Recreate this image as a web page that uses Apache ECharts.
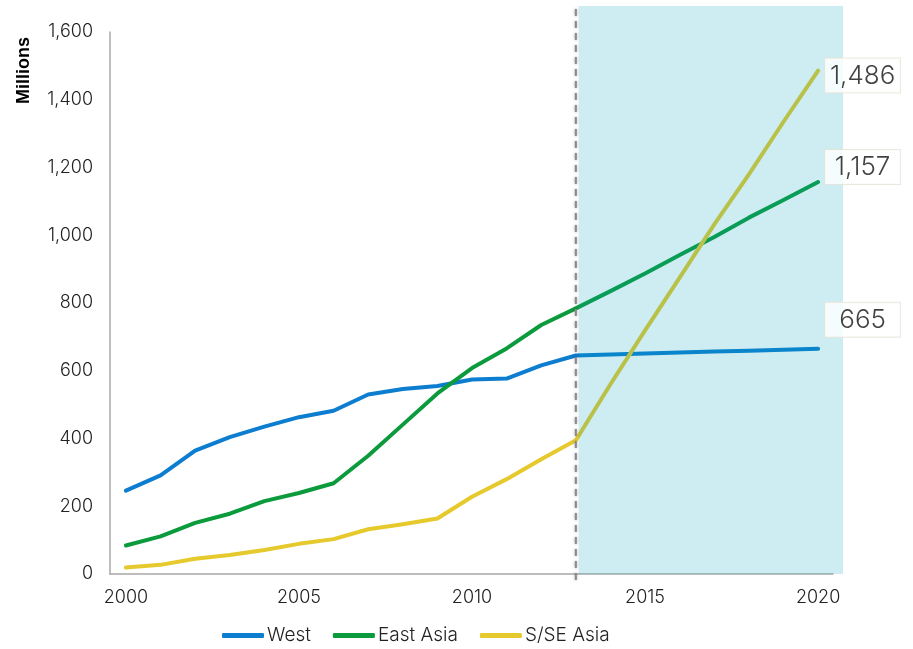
<!DOCTYPE html>
<html>
<head>
<meta charset="utf-8">
<style>
  html, body { margin: 0; padding: 0; background: #fff; }
  #chart { width: 913px; height: 649px; }
</style>
<script src="https://cdn.jsdelivr.net/npm/echarts@6/dist/echarts.min.js"></script>
</head>
<body>
<div id="chart"></div>
<script>
// Middle-class population by region, millions (2013 onward are projections)
const years = [2000, 2001, 2002, 2003, 2004, 2005, 2006, 2007, 2008, 2009, 2010,
               2011, 2012, 2013, 2014, 2015, 2016, 2017, 2018, 2019, 2020];
const west = [246, 291, 364, 404, 435, 463, 482, 530, 546, 555, 574,
              577, 616, 645, 648, 651, 654, 657, 659, 662, 665];
const eastAsia = [84, 111, 151, 178, 215, 239, 268, 349, 441, 533, 608,
                  666, 735, 784, 835, 887, 942, 995, 1052, 1104, 1157];
const sseAsia = [19, 27, 45, 56, 71, 89, 103, 132, 147, 164, 228,
                 280, 339, 395, 560, 719, 875, 1032, 1180, 1335, 1486];
const seriesNames = ['West', 'East Asia', 'S/SE Asia'];
const xTicks = [2000, 2005, 2010, 2015, 2020];
const forecastStart = 2013;
// extent of the projection band in data units
const bandEnd = [2020.72, 1677];
const dividerRange = [-18, 1680];

const colors = ['#0c7dcf', '#0b9a3c', '#e6c92c'];
const FONT = "Inter, 'Helvetica Neue', Roboto, sans-serif";
const LIGHT = 300;

const pairs = arr => years.map((y, i) => [y, arr[i]]);
const lastYear = years[years.length - 1];
const endValues = [west, eastAsia, sseAsia].map(a => a[a.length - 1]);
const endOffsets = [-29, -15, 5];

const chart = echarts.init(document.getElementById('chart'), null, { renderer: 'canvas' });

const lineSeries = [west, eastAsia, sseAsia].map((arr, i) => ({
  name: seriesNames[i],
  type: 'line',
  data: pairs(arr),
  showSymbol: false,
  symbol: 'none',
  z: 2,
  lineStyle: { width: 4, color: colors[i], cap: 'round', join: 'round' },
  itemStyle: { color: colors[i] },
  emphasis: { disabled: true }
}));

const millionsTitle = {
  id: 'unit',
  type: 'text',
  left: 15,
  top: 37,
  rotation: Math.PI / 2,
  style: {
    text: 'Millions',
    font: "bold 18px 'Liberation Sans', Arial, sans-serif",
    fill: '#000'
  }
};

chart.setOption({
  animation: false,
  backgroundColor: '#ffffff',
  textStyle: { fontFamily: FONT },
  grid: { left: 110, right: 80, top: 32, bottom: 75 },
  legend: {
    data: seriesNames.map(n => ({ name: n, icon: 'roundRect' })),
    left: 222,
    top: 626,
    padding: 0,
    itemWidth: 42,
    itemHeight: 5,
    itemGap: 22,
    textStyle: { fontSize: 19, color: '#222', fontFamily: FONT, fontWeight: LIGHT, padding: [0, 0, 0, -2] }
  },
  xAxis: {
    type: 'value',
    min: 1999.54,
    max: 2020.43,
    axisLine: { show: true, lineStyle: { color: '#a8a8a8', width: 1.5 } },
    axisTick: { show: false },
    splitLine: { show: false },
    axisLabel: {
      customValues: xTicks,
      formatter: v => String(v),
      fontSize: 18,
      color: '#222',
      fontWeight: LIGHT,
      margin: 15,
      fontFamily: FONT
    }
  },
  yAxis: {
    type: 'value',
    min: 0,
    max: 1600,
    interval: 200,
    axisLine: { show: true, lineStyle: { color: '#a8a8a8', width: 1.5 } },
    axisTick: { show: false },
    splitLine: { show: false },
    axisLabel: {
      fontSize: 18,
      color: '#222',
      fontWeight: LIGHT,
      margin: 17,
      fontFamily: FONT,
      formatter: v => v.toLocaleString('en-US')
    }
  },
  graphic: [millionsTitle],
  series: [
    ...lineSeries,
    {
      // 2020 value callouts
      name: 'endLabels',
      type: 'scatter',
      z: 5,
      silent: true,
      symbolSize: 0,
      data: endValues.map((v, i) => ({
        value: [lastYear, v],
        label: { offset: [0, endOffsets[i]] }
      })),
      label: {
        show: true,
        position: 'right',
        distance: 7,
        formatter: p => '{v|' + p.value[1].toLocaleString('en-US') + '}',
        backgroundColor: '#ffffff',
        borderColor: '#e6e3d6',
        borderWidth: 1,
        padding: [4, 4, 3, 4],
        rich: {
          v: { fontSize: 26, color: '#111', fontWeight: LIGHT, width: 67, align: 'center', fontFamily: FONT, lineHeight: 27 }
        }
      }
    }
  ]
});

// Projection band and divider reach past the plot area, so place them
// with the chart's own coordinate conversion.
function placeForecast() {
  const toPx = pt => chart.convertToPixel({ gridIndex: 0 }, pt);
  const a = toPx([forecastStart + 0.08, 0]);
  const b = toPx(bandEnd);
  const d0 = toPx([forecastStart, dividerRange[0]]);
  const d1 = toPx([forecastStart, dividerRange[1]]);
  chart.setOption({
    graphic: [
      millionsTitle,
      {
        id: 'band',
        type: 'rect',
        z: 3,
        silent: true,
        shape: { x: a[0], y: b[1], width: b[0] - a[0], height: a[1] - b[1] },
        style: { fill: 'rgba(5,165,190,0.2)' }
      },
      {
        id: 'divider',
        type: 'line',
        z: 4,
        silent: true,
        shape: { x1: d0[0], y1: d0[1], x2: d1[0], y2: d1[1] },
        style: {
          stroke: '#8a8a8a',
          lineWidth: 2,
          lineDash: [7, 5],
          shadowBlur: 3,
          shadowColor: 'rgba(0,0,0,0.35)'
        }
      }
    ]
  });
}
placeForecast();
</script>
</body>
</html>
